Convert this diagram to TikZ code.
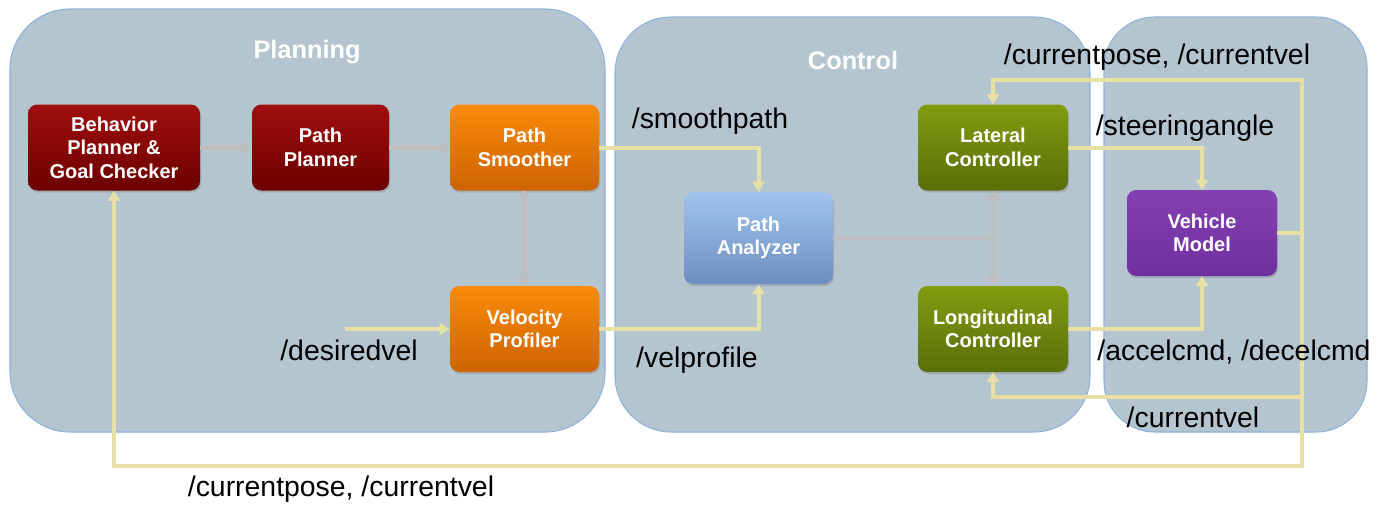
\documentclass[tikz,border=0pt]{standalone}
\usepackage{fontspec}
\setmainfont{Liberation Sans}
\usetikzlibrary{arrows.meta,shadows}
\definecolor{grpfill}{RGB}{181,197,208}
\definecolor{grpline}{RGB}{142,178,222}
\definecolor{yel}{RGB}{230,224,165}
\definecolor{gry}{RGB}{190,190,190}
\definecolor{redT}{RGB}{160,14,14}
\definecolor{redB}{RGB}{108,0,0}
\definecolor{orT}{RGB}{250,138,10}
\definecolor{orB}{RGB}{204,100,0}
\definecolor{blT}{RGB}{160,196,238}
\definecolor{blB}{RGB}{108,142,192}
\definecolor{grT}{RGB}{130,156,16}
\definecolor{grB}{RGB}{90,110,8}
\definecolor{puT}{RGB}{132,64,178}
\definecolor{puB}{RGB}{112,48,160}
\tikzset{
  grp/.style={fill=grpfill,draw=grpline,line width=0.8pt},
  blk/.style={rounded corners=7pt,inner sep=2pt,align=center,text=white,
    font=\fontsize{15}{17.6}\selectfont\bfseries,
    drop shadow={shadow xshift=0.8pt,shadow yshift=-1.6pt,opacity=0.35}},
  redblk/.style={blk,top color=redT,bottom color=redB,minimum width=129pt,minimum height=64.5pt},
  ppblk/.style={blk,top color=redT,bottom color=redB,minimum width=102.75pt,minimum height=64.5pt},
  orblk/.style={blk,top color=orT,bottom color=orB,minimum width=111.75pt,minimum height=64.5pt},
  blblk/.style={blk,top color=blT,bottom color=blB,minimum width=111.75pt,minimum height=69pt},
  grblk/.style={blk,top color=grT,bottom color=grB,minimum width=112.5pt,minimum height=64.5pt},
  publk/.style={blk,top color=puT,bottom color=puB,minimum width=112.5pt,minimum height=64.5pt},
  ttl/.style={text=white,font=\fontsize{19}{22}\selectfont\bfseries},
  lbl/.style={text=black,font=\fontsize{21.3}{24}\selectfont,inner sep=0pt},
  yl/.style={draw=yel,line width=3pt},
  yla/.style={yl,-{Triangle[width=9pt,length=7.5pt]}},
  gl/.style={draw=gry,line width=3.6pt},
  gla/.style={gl,-{Triangle[width=9.5pt,length=7.5pt]}},
}
\begin{document}
\begin{tikzpicture}[x=0.75pt,y=-0.75pt]
\useasboundingbox (0,0) rectangle (1385,504);
% groups
\draw[grp,rounded corners=45pt] (10,9) rectangle (605,432);
\draw[grp,rounded corners=42pt] (615,17) rectangle (1090,432);
\draw[grp,rounded corners=38pt] (1104,17) rectangle (1367,432);
\node[ttl] (tplan) at (307,52) {Planning};
\node[ttl] (tctrl) at (853,60) {Control};
% blocks
\node[redblk] (beh) at (114,147.5) {Behavior\\Planner \&\\Goal Checker};
\node[ppblk] (pp) at (320.5,147.5) {Path\\Planner};
\node[orblk] (ps) at (524.5,147.5) {Path\\Smoother};
\node[orblk] (vp) at (524.5,329) {Velocity\\Profiler};
\node[blblk] (pa) at (758.5,238) {Path\\Analyzer};
\node[grblk] (lat) at (993,147.5) {Lateral\\Controller};
\node[grblk] (lon) at (993,329) {Longitudinal\\Controller};
\node[publk] (vm) at (1202,233) {Vehicle\\Model};
% coordinates
\coordinate (jn) at (993,238);
\coordinate (dv) at (345,329);
\coordinate (fbmid) at (1302,233);
\coordinate (fbtop) at (1302,80);
\coordinate (fbcv) at (1302,397);
\coordinate (fbbot) at (1302,466);
% gray connectors
\draw[gla] (beh.east) -- (pp.west);
\draw[gla] (pp.east) -- (ps.west);
\draw[gla] (ps.south) -- (vp.north);
\draw[gl] (pa.east) -- (jn);
\draw[gla] (jn) -- (lat.south);
\draw[gla] (jn) -- (lon.north);
% yellow connectors
\draw[yla] (ps.east) -| (pa.north);
\draw[yla] (vp.east) -| (pa.south);
\draw[yla] (dv) -- (vp.west);
\draw[yla] (lat.east) -| (vm.north);
\draw[yla] (lon.east) -| (vm.south);
\draw[yl] (vm.east) -- (fbmid);
\draw[yl,line cap=rect] (fbtop) -- (fbbot);
\draw[yla] (fbtop) -| (lat.north);
\draw[yla] (fbcv) -| (lon.south);
\draw[yla] (fbbot) -| (beh.south);
% labels
\node[lbl] (lsp) at (710,121) {/smoothpath};
\node[lbl] (ldv) at (349,350) {/desiredvel};
\node[lbl] (lvp) at (697,360) {/velprofile};
\node[lbl] (lcp1) at (1157,57) {/currentpose, /currentvel};
\node[lbl] (lsa) at (1185,128) {/steeringangle};
\node[lbl] (lac) at (1234,352) {/accelcmd, /decelcmd};
\node[lbl] (lcv) at (1193,417) {/currentvel};
\node[lbl] (lcp2) at (341,489) {/currentpose, /currentvel};
\end{tikzpicture}
\end{document}
